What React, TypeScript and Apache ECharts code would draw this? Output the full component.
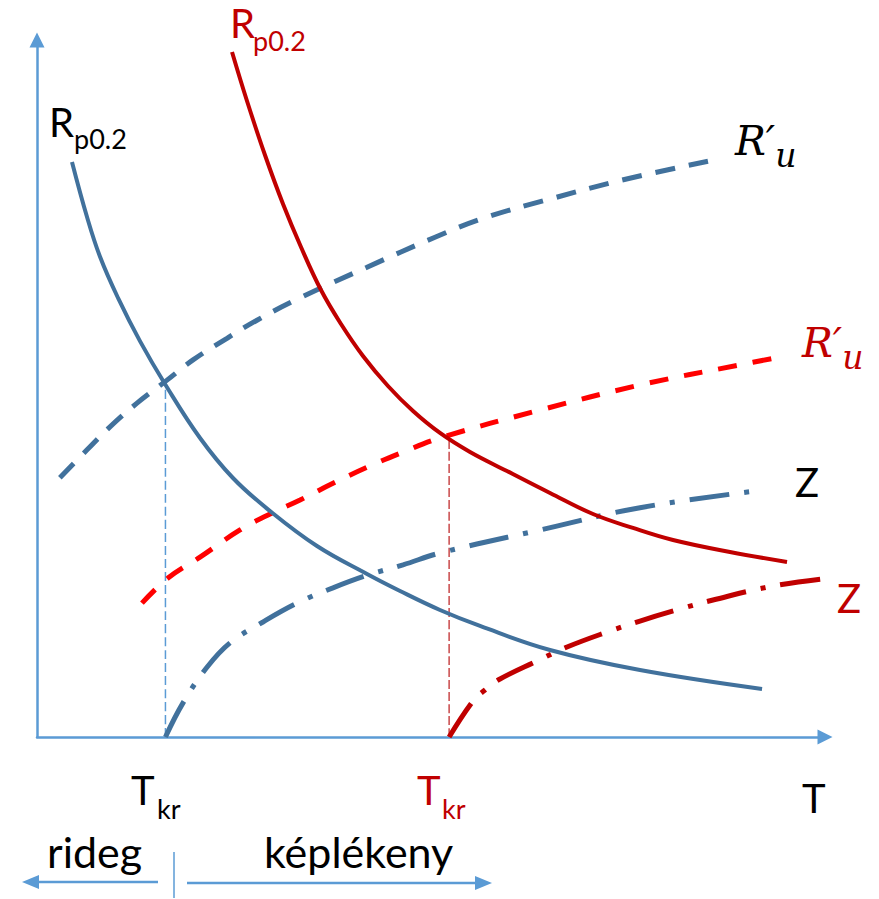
import React, { useEffect, useRef } from "react";
import * as echarts from "echarts";

// Schematic: strength / reduction of area vs. temperature, two materials.
// Units are arbitrary (T: 0..100, property: 0..100).

const T_MIN = 0;
const T_MAX = 100;
const V_MIN = 0;
const V_MAX = 100;

// Critical (transition) temperatures
const tkrBlue = 16.3;
const tkrRed = 52.3;
// Heights where the vertical guides meet the R'u / Rp0.2 crossings
const tkrBlueTop = 50.7;
const tkrRedTop = 43.0;

// Yield strength Rp0.2
const blueRp02: [number, number][] = [
  [4.44, 82.5], [6.35, 74.6], [8.0, 68.9], [10.28, 63.0], [13.07, 56.8],
  [16.24, 50.65], [20.69, 42.9], [24.87, 37.16], [29.57, 32.42], [35.53, 27.4],
  [41.88, 23.39], [46.07, 20.95], [51.14, 18.22], [56.22, 15.93], [65.1, 12.48],
  [76.52, 9.61], [92.01, 6.89],
];
const redRp02: [number, number][] = [
  [24.75, 98.28], [26.65, 91.25], [28.93, 83.5], [31.22, 76.47], [33.5, 70.3],
  [36.04, 64.13], [38.58, 59.25], [41.37, 54.66], [44.54, 50.36], [47.72, 46.77],
  [51.14, 43.62], [54.95, 40.89], [59.64, 38.16], [65.1, 35.01], [70.56, 31.99],
  [75.63, 29.99], [80.71, 28.26], [87.94, 26.54], [95.18, 25.11],
];

// Fracture stress R'u
const blueRu: [number, number][] = [
  [2.9, 37.2], [6.35, 41.2], [9.26, 44.5], [12.69, 47.9], [16.5, 51.2],
  [19.8, 54.1], [24.11, 57.2], [27.92, 59.8], [33.38, 63.0], [41.88, 67.4],
  [50.51, 71.7], [56.85, 74.5], [65.48, 77.3], [74.24, 79.9], [85.15, 82.6],
];
const redRu: [number, number][] = [
  [13.32, 19.2], [16.62, 22.8], [20.69, 25.8], [25.76, 29.7], [29.57, 32.0],
  [33.38, 34.0], [37.56, 36.4], [41.88, 38.7], [46.07, 40.7], [51.14, 42.9],
  [63.83, 46.9], [76.52, 50.5], [89.21, 53.4], [94.29, 54.5],
];

// Reduction of area Z
const blueZ: [number, number][] = [
  [16.3, 0], [18.53, 4.9], [21.57, 10.0], [24.49, 13.5], [28.68, 16.5],
  [33.0, 19.2], [37.56, 21.4], [41.88, 23.2], [46.45, 24.7], [51.14, 26.4],
  [63.83, 29.7], [76.52, 32.9], [92.0, 35.4],
];
const redZ: [number, number][] = [
  [52.3, 0], [55.33, 5.17], [56.85, 6.74], [58.76, 8.32], [63.45, 10.9],
  [67.26, 12.91], [72.34, 15.06], [76.52, 16.64], [81.6, 18.36], [85.79, 19.66],
  [93.4, 21.66], [100.63, 22.81],
];

const BLUE = "#41719C";
const RED = "#C00000";
const BRIGHT_RED = "#FF0000";
const AXIS = "#5B9BD5";
const BLACK = "#000000";
const SANS = "Lato, 'Open Sans', sans-serif";
const SERIF = "'DejaVu Serif', 'Liberation Serif', serif";

function text(
  t: string,
  x: number,
  y: number,
  size: number,
  color: string
) {
  return {
    type: "text",
    x,
    y,
    silent: true,
    style: {
      text: t,
      fontSize: size,
      fontFamily: SANS,
      fill: color,
      align: "left",
      verticalAlign: "middle",
    },
  };
}

// Italic R′ with a lowered subscript u, as one rich text
function ruLabel(x: number, y: number, color: string) {
  return {
    type: "text",
    x,
    y,
    silent: true,
    style: {
      text: "{r|R′}{s|u}",
      fill: color,
      align: "left",
      verticalAlign: "middle",
      rich: {
        r: {
          fontSize: 41,
          fontFamily: SERIF,
          fontStyle: "italic",
          fill: color,
          lineHeight: 41,
          verticalAlign: "top",
        },
        s: {
          fontSize: 33,
          fontFamily: SERIF,
          fontStyle: "italic",
          fill: color,
          lineHeight: 70,
          verticalAlign: "middle",
        },
      },
    },
  };
}

function curve(
  data: [number, number][],
  color: string,
  width: number,
  type: any,
  z: number
) {
  return {
    type: "line",
    data,
    smooth: 0.4,
    showSymbol: false,
    symbol: "none",
    clip: false,
    silent: true,
    z,
    lineStyle: { color, width, type, cap: "butt" },
  };
}

export default function App() {
  const ref = useRef<HTMLDivElement>(null);

  useEffect(() => {
    document.body.style.margin = "0";
    if (!ref.current) return;
    const chart = echarts.init(ref.current, undefined, { renderer: "svg" });

    const axisCommon = {
      type: "value",
      axisTick: { show: false },
      axisLabel: { show: false },
      splitLine: { show: false },
      axisLine: {
        show: true,
        symbol: ["none", "triangle"],
        symbolSize: [15, 15],
        lineStyle: { color: AXIS, width: 2.5 },
      },
    };

    chart.setOption({
      animation: false,
      backgroundColor: "#ffffff",
      grid: { left: 37, right: 54, top: 40, bottom: 162, containLabel: false },
      xAxis: { ...axisCommon, min: T_MIN, max: T_MAX },
      yAxis: { ...axisCommon, min: V_MIN, max: V_MAX },
      series: [
        curve([[tkrBlue, 0], [tkrBlue, tkrBlueTop]], AXIS, 1.5, [9, 4], 1),
        curve([[tkrRed, 0], [tkrRed, tkrRedTop]], "#C9484A", 1.5, [9, 3], 1),
        curve(blueRu, BLUE, 5, [20, 14], 2),
        curve(redRu, BRIGHT_RED, 5, [19, 16], 2),
        curve(blueZ, BLUE, 5, [40, 15, 5, 15], 2),
        curve(redZ, RED, 5, [40, 15, 5, 15], 2),
        curve(blueRp02, BLUE, 4, "solid", 3),
        curve(redRp02, RED, 4, "solid", 3),
      ],
      graphic: [
        // curve labels
        text("R", 49, 121.5, 40, BLACK),
        text("p0.2", 74, 138, 27, BLACK),
        text("R", 230, 22.5, 40, RED),
        text("p0.2", 253, 40, 27, RED),
        ruLabel(735, 155.5, BLACK),
        ruLabel(802, 357.5, RED),
        text("Z", 795, 481.5, 40, BLACK),
        text("Z", 837, 597.5, 40, RED),
        // axis / critical temperature labels
        text("T", 802, 797.5, 40, BLACK),
        text("T", 131, 789.5, 40, BLACK),
        text("kr", 157, 808, 27, BLACK),
        text("T", 417, 789.5, 40, RED),
        text("kr", 442, 808, 27, RED),
        // brittle / ductile ranges
        text("rideg", 47, 851.5, 43, BLACK),
        text("képlékeny", 264, 851.5, 43, BLACK),
        {
          type: "line",
          silent: true,
          shape: { x1: 158, y1: 882, x2: 36, y2: 882 },
          style: { stroke: AXIS, lineWidth: 2.5 },
        },
        {
          type: "polygon",
          silent: true,
          shape: { points: [[22, 882], [39, 875], [39, 889]] },
          style: { fill: AXIS },
        },
        {
          type: "line",
          silent: true,
          shape: { x1: 187, y1: 883, x2: 478, y2: 883 },
          style: { stroke: AXIS, lineWidth: 2.5 },
        },
        {
          type: "polygon",
          silent: true,
          shape: { points: [[492, 883], [475, 876], [475, 890]] },
          style: { fill: AXIS },
        },
        {
          type: "line",
          silent: true,
          shape: { x1: 174, y1: 852, x2: 174, y2: 898 },
          style: { stroke: AXIS, lineWidth: 1.5 },
        },
      ],
    });

    return () => chart.dispose();
  }, []);

  return <div ref={ref} style={{ width: 879, height: 899 }} />;
}
